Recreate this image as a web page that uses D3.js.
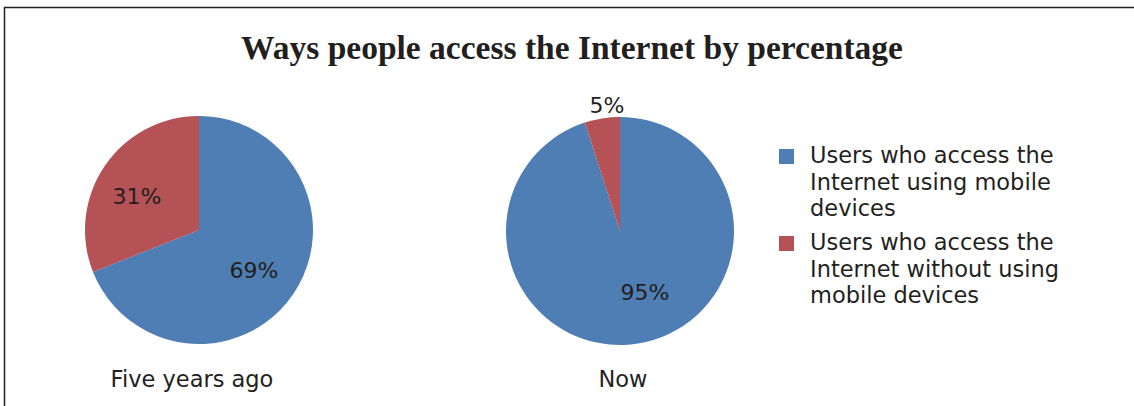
<!DOCTYPE html>
<html>
<head>
<meta charset="utf-8">
<script src="https://cdn.jsdelivr.net/npm/d3@7"></script>
<style>
  html, body { margin: 0; padding: 0; background: #fff; }
  svg { display: block; }
</style>
</head>
<body>
<div id="chart"></div>
<script>
// data
const title = "Ways people access the Internet by percentage";
const categories = ["Users who access the Internet using mobile devices",
                    "Users who access the Internet without using mobile devices"];
const legendLines = [
  ["Users who access the", "Internet using mobile", "devices"],
  ["Users who access the", "Internet without using", "mobile devices"]
];
const periods = ["Five years ago", "Now"];
const fiveYearsAgo = [69, 31];
const now = [95, 5];
const colors = ["#4e7eb3", "#b45255"];

const width = 1134, height = 406;
const textColor = "#231f20";
const sans = "'DejaVu Sans', 'Open Sans', sans-serif";

const svg = d3.select("#chart").append("svg")
    .attr("width", width)
    .attr("height", height);

// frame (right and bottom edges are cut off in the picture)
svg.append("rect")
    .attr("x", 4.5).attr("y", 7.5)
    .attr("width", width + 10).attr("height", height + 10)
    .attr("fill", "none")
    .attr("stroke", "#222")
    .attr("stroke-width", 1.5);

svg.append("text")
    .attr("x", 572).attr("y", 59)
    .attr("text-anchor", "middle")
    .style("font-family", "'Book Antiqua', Palatino, 'Liberation Serif', 'DejaVu Serif', serif")
    .style("font-weight", "bold")
    .style("font-size", "33.5px")
    .style("fill", textColor)
    .text(title);

const color = d3.scaleOrdinal().domain(categories).range(colors);
const pie = d3.pie().sort(null).value(d => d.value);
const radius = 114;
const arc = d3.arc().innerRadius(0).outerRadius(radius);

const pies = [
  { name: periods[0], values: fiveYearsAgo, cx: 199, cy: 230, labelX: 192,
    labelPos: [[254, 270], [137, 196]] },
  { name: periods[1], values: now, cx: 620, cy: 231, labelX: 623,
    labelPos: [[645, 292], [607, 105]] }
];

pies.forEach(p => {
  const data = categories.map((c, i) => ({ cat: c, value: p.values[i] }));
  const g = svg.append("g").attr("transform", `translate(${p.cx},${p.cy})`);
  const arcs = pie(data);

  g.selectAll("path")
    .data(arcs)
    .enter().append("path")
    .attr("d", arc)
    .attr("fill", d => color(d.data.cat));

  svg.append("g").selectAll("text")
    .data(arcs)
    .enter().append("text")
    .attr("x", (d, i) => p.labelPos[i][0])
    .attr("y", (d, i) => p.labelPos[i][1])
    .attr("text-anchor", "middle")
    .attr("dominant-baseline", "central")
    .style("font-family", sans)
    .style("font-size", "22px")
    .style("fill", textColor)
    .text(d => d.data.value + "%");

  svg.append("text")
    .attr("x", p.labelX)
    .attr("y", 387)
    .attr("text-anchor", "middle")
    .style("font-family", sans)
    .style("font-size", "22.5px")
    .style("fill", textColor)
    .text(p.name);
});

// legend
const legend = svg.append("g");
const legendY = [149, 236];
categories.forEach((c, i) => {
  legend.append("rect")
    .attr("x", 779).attr("y", legendY[i])
    .attr("width", 15).attr("height", 15)
    .attr("fill", color(c));
  const t = legend.append("text")
    .style("font-family", sans)
    .style("font-size", "22.5px")
    .style("fill", textColor);
  legendLines[i].forEach((line, j) => {
    t.append("tspan")
      .attr("x", 810)
      .attr("y", legendY[i] + 14 + j * 26.5)
      .text(line);
  });
});
</script>
</body>
</html>
